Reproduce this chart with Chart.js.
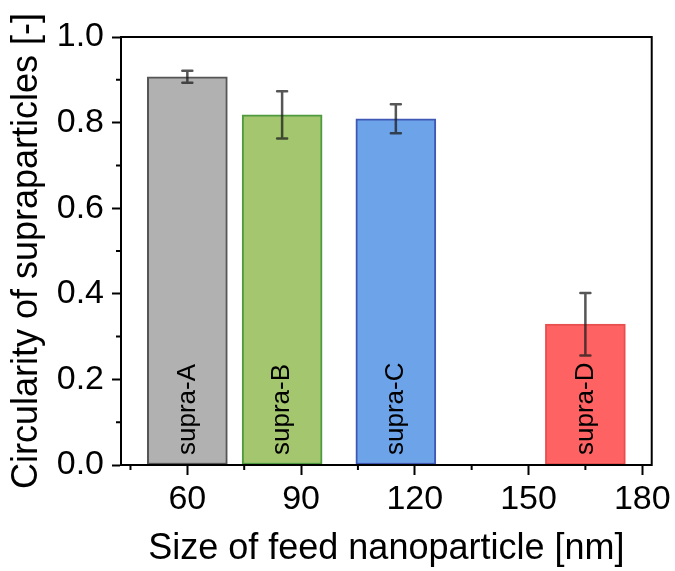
<!DOCTYPE html>
<html>
<head>
<meta charset="utf-8">
<script src="https://cdn.jsdelivr.net/npm/chart.js@4/dist/chart.umd.min.js"></script>
<style>
  body { margin: 0; background: #fff; }
  canvas { display: block; }
</style>
</head>
<body>
<canvas id="circChart" width="675" height="571"></canvas>
<script>
// data
const samples = ['supra-A', 'supra-B', 'supra-C', 'supra-D'];
const feedSize = [60, 85, 115, 165];
const circularity = [0.907, 0.818, 0.809, 0.329];
const circErr = [0.014, 0.055, 0.034, 0.073];

const xTicks = [60, 90, 120, 150, 180];
const xMinor = [45, 75, 105, 135, 165];
const yTicks = [0.0, 0.2, 0.4, 0.6, 0.8, 1.0];
const yMinor = [0.1, 0.3, 0.5, 0.7, 0.9];

const fillColors = ['#b1b1b1', '#a3c66e', '#6ca3e9', '#ff6262'];
const edgeColors = ['#555555', '#4e9a3e', '#3f58b5', '#e85050'];

const FONT = 'Arial, "Liberation Sans", sans-serif';

// frame, minor ticks, error bars and the rotated labels inside the bars
const extras = {
    id: 'extras',
    afterDatasetsDraw(chart) {
        const ctx = chart.ctx;
        const xs = chart.scales.x, ys = chart.scales.y;
        const area = chart.chartArea;
        const meta = chart.getDatasetMeta(0);

        ctx.save();
        // error bars
        ctx.strokeStyle = 'rgba(30,30,30,0.75)';
        ctx.lineWidth = 2.5;
        ctx.lineCap = 'round';
        meta.data.forEach((bar, i) => {
            const yt = ys.getPixelForValue(circularity[i] + circErr[i]);
            const yb = ys.getPixelForValue(circularity[i] - circErr[i]);
            ctx.beginPath();
            ctx.moveTo(bar.x, yt); ctx.lineTo(bar.x, yb);
            ctx.moveTo(bar.x - 5, yt); ctx.lineTo(bar.x + 5, yt);
            ctx.moveTo(bar.x - 5, yb); ctx.lineTo(bar.x + 5, yb);
            ctx.stroke();
        });

        // labels
        ctx.fillStyle = '#000';
        ctx.font = '26px ' + FONT;
        ctx.textAlign = 'left';
        ctx.textBaseline = 'middle';
        meta.data.forEach((bar, i) => {
            ctx.save();
            ctx.translate(bar.x, ys.getPixelForValue(0) - 10);
            ctx.rotate(-Math.PI / 2);
            ctx.fillText(samples[i], 0, 0);
            ctx.restore();
        });

        // frame
        ctx.strokeStyle = '#000';
        ctx.lineWidth = 2;
        ctx.lineCap = 'butt';
        ctx.strokeRect(area.left, area.top, area.right - area.left, area.bottom - area.top);

        // minor ticks
        ctx.beginPath();
        xMinor.forEach(v => {
            const px = xs.getPixelForValue(v);
            ctx.moveTo(px, area.bottom); ctx.lineTo(px, area.bottom + 5);
        });
        yMinor.forEach(v => {
            const py = ys.getPixelForValue(v);
            ctx.moveTo(area.left, py); ctx.lineTo(area.left - 5, py);
        });
        ctx.stroke();
        ctx.restore();
    }
};

const ctx = document.getElementById('circChart').getContext('2d');
const circChart = new Chart(ctx, {
    type: 'bar',
    data: {
        datasets: [{
            label: 'Circularity',
            data: feedSize.map((x, i) => ({ x: x, y: circularity[i] })),
            backgroundColor: fillColors,
            borderColor: edgeColors,
            borderWidth: 2,
            borderSkipped: false,
            barThickness: 80
        }]
    },
    options: {
        responsive: false,
        animation: false,
        layout: { padding: { top: 37, right: 22, left: 0, bottom: 0 } },
        plugins: {
            legend: { display: false },
            tooltip: { enabled: false }
        },
        scales: {
            x: {
                type: 'linear',
                offset: false,
                min: 42.5,
                max: 182.5,
                afterFit: s => { s.height = 106; },
                afterBuildTicks: s => { s.ticks = xTicks.map(v => ({ value: v })); },
                grid: { offset: false, drawOnChartArea: false, tickLength: 10, tickWidth: 2, tickColor: '#000' },
                border: { display: true, color: '#000', width: 2 },
                ticks: {
                    color: '#000',
                    padding: 4,
                    maxRotation: 0,
                    autoSkip: false,
                    font: { family: FONT, size: 34 },
                    callback: v => String(v)
                },
                title: {
                    display: true,
                    text: 'Size of feed nanoparticle [nm]',
                    color: '#000',
                    padding: { top: 0, bottom: 0 },
                    font: { family: FONT, size: 36 }
                }
            },
            y: {
                min: 0,
                max: 1,
                afterFit: s => { s.width = 121; },
                afterBuildTicks: s => { s.ticks = yTicks.map(v => ({ value: v })); },
                grid: { drawOnChartArea: false, tickLength: 9, tickWidth: 2, tickColor: '#000' },
                border: { display: true, color: '#000', width: 2 },
                ticks: {
                    color: '#000',
                    padding: 8,
                    font: { family: FONT, size: 34 },
                    callback: v => Number(v).toFixed(1)
                },
                title: {
                    display: true,
                    text: 'Circularity of supraparticles [-]',
                    color: '#000',
                    padding: { top: 5, bottom: 0 },
                    font: { family: FONT, size: 36 }
                }
            }
        }
    },
    plugins: [extras]
});
</script>
</body>
</html>
